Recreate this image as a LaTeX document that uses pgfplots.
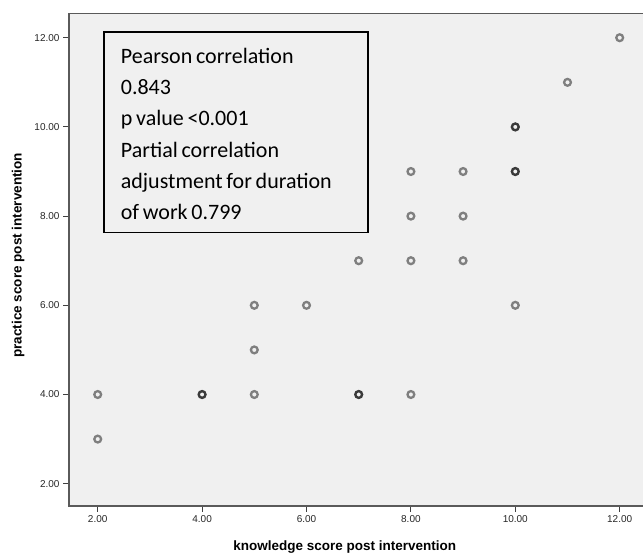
\documentclass[border=0pt]{standalone}
\usepackage{fontspec}
\setmainfont{Liberation Sans}
\newfontfamily\carlito[WordSpace=0.75]{Carlito}
\usepackage{pgfplots}
\pgfplotsset{compat=1.18}
\definecolor{bg}{HTML}{F0F0F0}
\definecolor{ptc}{HTML}{7F7F7F}
\definecolor{ptd}{HTML}{3A3A3A}
\definecolor{axc}{HTML}{5A5A5A}
\begin{document}
\begin{tikzpicture}
\begin{axis}[
  at={(69pt,50pt)}, anchor=south west,
  scale only axis, width=579.4pt, height=492.8pt,
  xmin=1.45, xmax=12.55, ymin=1.5, ymax=12.55,
  axis background/.style={fill=bg},
  axis line style={draw=axc, line width=1.3pt},
  xtick={2,4,...,12}, ytick={2,4,...,12},
  xtick pos=bottom, ytick pos=left, tick align=outside,
  major tick length=6pt,
  tick style={draw=black!75, line width=1.1pt},
  /pgf/number format/.cd, fixed, fixed zerofill, precision=2, assume math mode=true, /pgfplots/.cd,
  tick label style={font=\fontsize{10}{12}\selectfont, text=black!85},
  xlabel={knowledge score post intervention},
  ylabel={practice score post intervention},
  label style={font=\bfseries\fontsize{13.5}{16}\selectfont},
  xlabel style={at={(axis description cs:0.476,-0.083)}, anchor=center},
  ylabel style={at={(axis description cs:-0.088,0.509)}, anchor=center},
]
\addplot[only marks, mark=o, mark size=3.4pt, mark options={draw=ptc, line width=2.3pt}] coordinates {
  (2,4) (2,3) (5,6) (5,5) (5,4) (6,6) (7,7) (8,9) (8,8) (8,7) (8,4)
  (9,9) (9,8) (9,7) (10,6) (11,11) (12,12)
};
\addplot[only marks, mark=o, mark size=3.4pt, mark options={draw=ptd, line width=2.4pt}] coordinates {
  (4,4) (7,4) (10,10) (10,9)
};
\draw[black, line width=1.2pt, fill=bg] (axis cs:2.12,7.64) rectangle (axis cs:7.18,12.13);
\node[anchor=north west, inner sep=0pt, align=left,
  font=\carlito\fontsize{22}{31.3}\selectfont] at (axis cs:2.44,11.814)
  {\rule{0pt}{17pt}Pearson correlation\\0.843\\p value <0.001\\Partial correlation\\adjustment for duration\\of work 0.799};
\end{axis}
\pgfresetboundingbox
\path (0,0) rectangle (643pt,556pt);
\end{tikzpicture}
\end{document}
